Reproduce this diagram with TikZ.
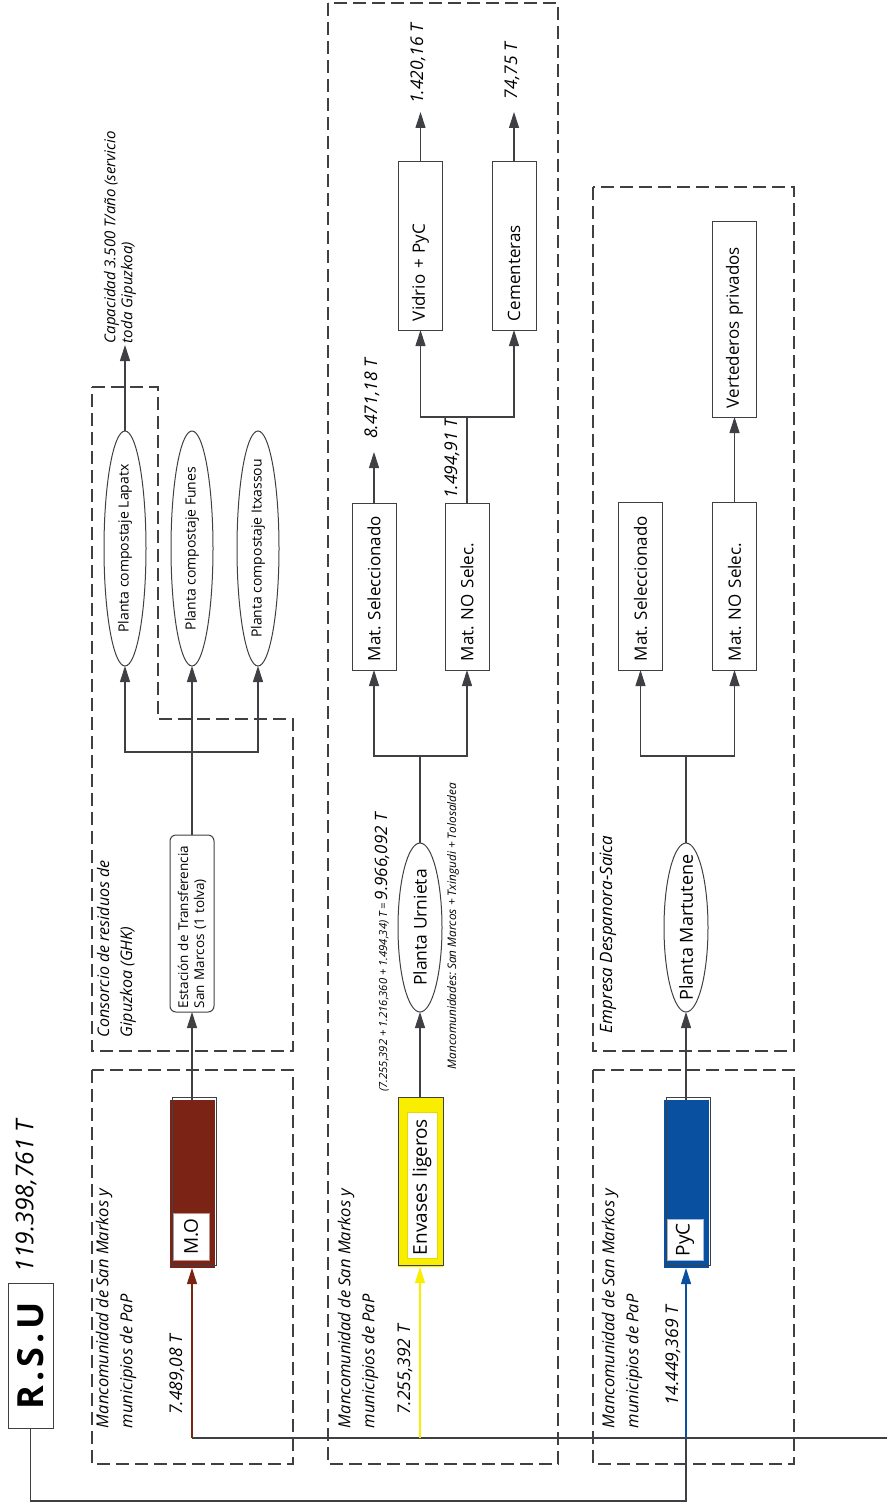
\documentclass[tikz,border=0pt]{standalone}
\usepackage{fontspec}
\setmainfont{Open Sans}
\usetikzlibrary{arrows.meta,shapes.geometric}
\definecolor{ln}{RGB}{62,64,68}
\definecolor{mobrown}{RGB}{123,36,22}
\definecolor{envy}{RGB}{250,238,0}
\definecolor{pycb}{RGB}{10,80,160}
\begin{document}
\frenchspacing
\begin{tikzpicture}[x=1pt,y=-1pt,
  every node/.style={inner sep=0pt, outer sep=0pt, text=black},
  frame/.style={draw=ln, line width=1.2pt, dash pattern=on 13pt off 6pt},
  conn/.style={draw=ln, line width=1.1pt},
  arr/.style={conn, -{Triangle[length=16pt,width=10pt]}},
  box/.style={draw=ln, line width=1pt, rotate=90, minimum height=44pt, inner xsep=9pt, inner ysep=0pt, align=left, font=\fontsize{17}{20}\selectfont},
  oval/.style={draw=ln, line width=1pt, ellipse, rotate=90, inner xsep=-30pt, inner ysep=0pt},
  ttl/.style={rotate=90, anchor=west, align=left, font=\itshape\fontsize{16.5}{24}\selectfont},
  num/.style={rotate=90, font=\itshape\fontsize{17.5}{20}\selectfont},
]
\useasboundingbox (0,0) rectangle (887,1503);
% dashed frames
\draw[frame] (92,1070) rectangle (293,1464);
\draw[frame] (328,3) rectangle (558,1464);
\draw[frame] (593,1070) rectangle (794,1464);
\draw[frame] (593,187) rectangle (794,1051);
\draw[frame] (92,387) -- (158,387) -- (158,719) -- (293,719) -- (293,1051) -- (92,1051) -- cycle;

% RSU
\node[draw=ln, line width=1pt, rotate=90, minimum width=145pt, minimum height=45pt, font=\bfseries\fontsize{36}{36}\selectfont] (rsu) at (30.5,1355.5) {R\kern4pt.\kern4pt S\kern4pt.\kern4pt U};
\node[num, font=\itshape\fontsize{24.5}{25}\selectfont] (total) at (26,1196) {119.398,761 T};

% titles
\node[ttl] (tA) at (116,1428) {Mancomunidad de San Markos y\\municipios de PaP};
\node[ttl] (tB) at (358,1428) {Mancomunidad de San Markos y\\municipios de PaP};
\node[ttl] (tC) at (622,1428) {Mancomunidad de San Markos y\\municipios de PaP};
\node[ttl, font=\itshape\fontsize{16}{23}\selectfont] (tE) at (116.5,1037) {Consorcio de residuos de\\Gipuzkoa (GHK)};
\node[ttl, font=\itshape\fontsize{17}{20}\selectfont] (tD) at (608,1033) {Empresa Despanora-Saica};
\node[ttl, font=\itshape\fontsize{15}{17}\selectfont] (cap) at (120,343) {Capacidad 3.500 T/año (servicio\\toda Gipuzkoa)};

% coloured source boxes
\node[fill=mobrown, rotate=90, minimum width=168pt, minimum height=45pt] (mo) at (192,1184) {};
\draw[ln, line width=0.8pt] (172.5,1097) rectangle (216,1265);
\node[fill=white, draw=mobrown!50, rotate=90, minimum width=47pt, minimum height=36pt, font=\fontsize{19}{19}\selectfont] (molbl) at (191,1236.5) {M.O};

\node[fill=envy, rotate=90, minimum width=169pt, minimum height=45pt] (env) at (420,1182.5) {};
\draw[ln, line width=0.8pt] (398.5,1097) rectangle (443,1265);
\node[fill=white, draw=envy!70!black!30!envy, rotate=90, text width=140pt, minimum height=30pt, inner xsep=3pt, align=left, font=\fontsize{19}{19}\selectfont] (envlbl) at (422,1185) {Envases ligeros};

\node[fill=pycb, rotate=90, minimum width=168pt, minimum height=45pt] (pyc) at (686,1184) {};
\draw[ln, line width=0.8pt] (666.5,1097) rectangle (710,1265);
\node[fill=white, draw=pycb!40, rotate=90, minimum width=41pt, minimum height=36pt, font=\fontsize{19}{19}\selectfont] (pyclbl) at (685,1239.5) {PyC};

% GHK
\node[draw=ln, line width=1pt, rounded corners=6pt, rotate=90, text width=169pt, minimum height=44pt, inner xsep=4pt, align=left, font=\fontsize{13.5}{16}\selectfont] (est) at (192,923.5) {Estación de Transferencia\\San Marcos (1 tolva)};
\node[oval, minimum width=235pt, minimum height=42pt, font=\fontsize{14}{14}\selectfont] (lap) at (125,548.5) {Planta compostaje Lapatx};
\node[oval, minimum width=235pt, minimum height=42pt, font=\fontsize{14}{14}\selectfont] (fun) at (192,548.5) {Planta compostaje Funes};
\node[oval, minimum width=235pt, minimum height=42pt, font=\fontsize{14}{14}\selectfont] (itx) at (258,548.5) {Planta compostaje Itxassou};

% middle
\node[oval, minimum width=169pt, minimum height=44pt, font=\fontsize{17.5}{17}\selectfont] (urn) at (420,927.5) {Planta Urnieta};
\node[box, text width=149pt] (selB) at (374,586.5) {Mat. Seleccionado};
\node[box, text width=149pt] (nosB) at (467,586.5) {Mat. NO Selec.};
\node[box, text width=150pt] (vid) at (420.5,246) {Vidrio + PyC};
\node[box, text width=150pt] (cem) at (514,246) {Cementeras};

% right
\node[oval, minimum width=169pt, minimum height=44pt, font=\fontsize{18}{17}\selectfont] (mar) at (686,927.5) {Planta Martutene};
\node[box, text width=150pt] (selD) at (640.5,586) {Mat. Seleccionado};
\node[box, text width=150pt] (nosD) at (734.5,586) {Mat. NO Selec.};
\node[box, text width=177pt] (ver) at (734.5,319.5) {Vertederos privados};

% numbers
\node[num] (nMO) at (177,1375) {7.489,08 T};
\node[num] (nEnv) at (405,1370) {7.255,392 T};
\node[num] (nPyC) at (673,1355.5) {14.449,369 T};
\node[num] (n8) at (372,399) {8.471,18 T};
\node[num] (n1494) at (452,459) {1.494,91 T};
\node[num] (n1420) at (418,64) {1.420,16 T};
\node[num] (n74) at (512,71) {74,75 T};
\node[rotate=90, font=\itshape] (form) at (382,952.5) {{\fontsize{11.2}{12}\selectfont (7.255,392 + 1.216,360 + 1.494,34) T =} {\fontsize{17}{17}\selectfont 9.966,092 T}};
\node[rotate=90, font=\itshape\fontsize{11.8}{12}\selectfont] (mancs) at (453,926) {Mancomunidades: San Marcos + Txingudi + Tolosaldea};

% coordinates
\coordinate (jR) at (686,1501);
\coordinate (jB) at (686,1438);
\coordinate (jMO) at (192,1438);
\coordinate (jEnv) at (420,1438);
\coordinate (jEnd) at (887,1438);
\coordinate (jE) at (192,752);
\coordinate (capTip) at (125,345);
\coordinate (jU) at (420,756);
\coordinate (jV) at (467,417);
\coordinate (t8) at (374,452);
\coordinate (tVid) at (420.5,112);
\coordinate (tCem) at (514,112);
\coordinate (jM) at (686,756);

% connectors
\draw[conn] (rsu.west) |- (jR) -- (jB);
\draw[conn] (jMO) -- (jEnd);
\draw[arr, draw=mobrown] (jMO) -- (mo.west);
\draw[arr, draw=envy] (jEnv) -- (env.west);
\draw[arr, draw=pycb] (jB) -- (pyc.west);

\draw[arr] (mo.east) -- (est.west);
\draw[conn] (est.east) -- (jE);
\draw[arr] (jE) -- (fun.west);
\draw[arr] (jE) -| (lap.west);
\draw[arr] (jE) -| (itx.west);
\draw[arr] (lap.east) -- (capTip);

\draw[arr] (env.east) -- (urn.west);
\draw[conn] (urn.east) -- (jU);
\draw[arr] (jU) -| (selB.west);
\draw[arr] (jU) -| (nosB.west);
\draw[arr] (selB.east) -- (t8);
\draw[conn] (nosB.east) -- (jV);
\draw[arr] (jV) -| (vid.west);
\draw[arr] (jV) -| (cem.west);
\draw[arr] (vid.east) -- (tVid);
\draw[arr] (cem.east) -- (tCem);

\draw[arr] (pyc.east) -- (mar.west);
\draw[conn] (mar.east) -- (jM);
\draw[arr] (jM) -| (selD.west);
\draw[arr] (jM) -| (nosD.west);
\draw[arr] (nosD.east) -- (ver.west);
\end{tikzpicture}
\end{document}
